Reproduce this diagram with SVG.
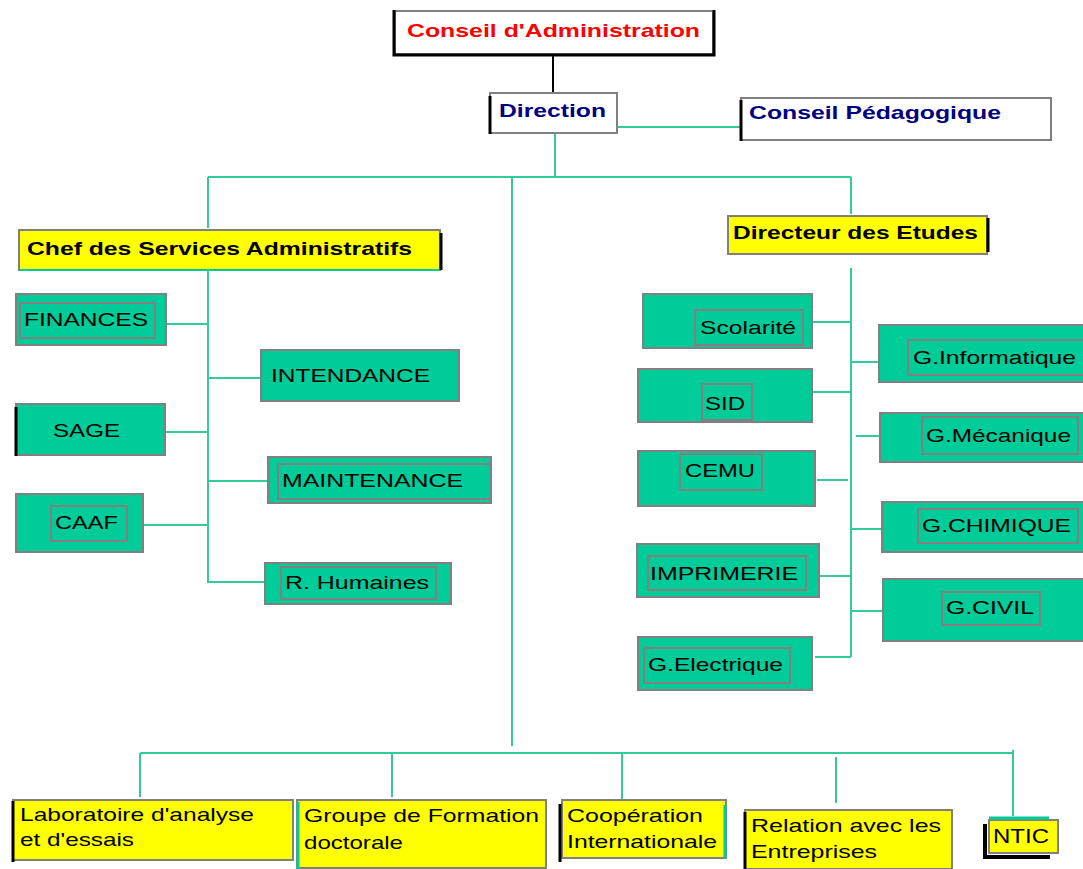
<svg xmlns="http://www.w3.org/2000/svg" width="1083" height="869" viewBox="0 0 1083 869">
<style>
.g{fill:#00CC99;stroke:#808080;stroke-width:2}
.in{fill:none;stroke:#808080;stroke-width:2}
.y{fill:#FFFF00;stroke:#808080;stroke-width:2}
.w{fill:#FFFFFF;stroke:#808080;stroke-width:2}
.bk{stroke:#000;stroke-width:3;fill:none}
.gr{stroke:#00CC99;stroke-width:3;fill:none}
.t{font-family:"Liberation Sans",Arial,sans-serif;font-size:19px;fill:#000}
.b{font-family:"Liberation Sans",Arial,sans-serif;font-size:19px;font-weight:bold}
.c line,.c polyline{stroke:#33CC99;stroke-width:2;fill:none}
</style>
<g class="c" id="connectors">
<line x1="553" y1="55" x2="553" y2="92" style="stroke:#000"/>
<line x1="617" y1="127" x2="740" y2="127"/>
<line x1="555" y1="133" x2="555" y2="177"/>
<line x1="208" y1="177" x2="851" y2="177"/>
<line x1="208" y1="177" x2="208" y2="228"/>
<line x1="851" y1="177" x2="851" y2="214"/>
<line x1="512" y1="177" x2="512" y2="746"/>
<line x1="208" y1="270" x2="208" y2="583"/>
<line x1="166" y1="324" x2="208" y2="324"/>
<line x1="208" y1="378" x2="260" y2="378"/>
<line x1="165" y1="432" x2="208" y2="432"/>
<line x1="208" y1="481" x2="267" y2="481"/>
<line x1="143" y1="525" x2="208" y2="525"/>
<line x1="208" y1="582" x2="264" y2="582"/>
<line x1="851" y1="268" x2="851" y2="657"/>
<line x1="812" y1="322" x2="851" y2="322"/>
<line x1="812" y1="392" x2="851" y2="392"/>
<line x1="817" y1="480" x2="848" y2="480"/>
<line x1="819" y1="576" x2="851" y2="576"/>
<line x1="815" y1="657" x2="851" y2="657"/>
<line x1="851" y1="362" x2="878" y2="362"/>
<line x1="856" y1="436" x2="879" y2="436"/>
<line x1="851" y1="529" x2="881" y2="529"/>
<line x1="851" y1="611" x2="882" y2="611"/>
<line x1="140" y1="753" x2="1012" y2="753"/>
<line x1="140" y1="753" x2="140" y2="797"/>
<line x1="392" y1="753" x2="392" y2="797"/>
<line x1="622" y1="753" x2="622" y2="799"/>
<line x1="836" y1="757" x2="836" y2="803"/>
<line x1="1013" y1="750" x2="1013" y2="816"/>
</g>
<g id="conseil-admin">
<rect x="395" y="11" width="318" height="43" class="w"/>
<polyline points="394,10 394,55 714,55 714,10" class="bk"/>
<text x="407" y="37" class="b" fill="#FF0000" textLength="293" lengthAdjust="spacingAndGlyphs">Conseil d'Administration</text>
</g>
<g id="direction">
<rect x="490" y="93" width="127" height="40" class="w"/>
<line x1="490" y1="96" x2="490" y2="134" class="bk"/>
<text x="499" y="117" class="b" fill="#000080" textLength="107" lengthAdjust="spacingAndGlyphs">Direction</text>
</g>
<g id="conseil-pedagogique">
<rect x="741" y="98" width="310" height="42" class="w"/>
<line x1="741" y1="100" x2="741" y2="141" class="bk"/>
<text x="749" y="119" class="b" fill="#000080" textLength="252" lengthAdjust="spacingAndGlyphs">Conseil Pédagogique</text>
</g>
<g id="chef-services">
<rect x="19" y="230" width="421" height="40" class="y"/>
<line x1="20" y1="270" x2="440" y2="270" class="gr" style="stroke-width:2"/>
<line x1="441" y1="233" x2="441" y2="270" class="bk"/>
<text x="27" y="255" class="b" textLength="385" lengthAdjust="spacingAndGlyphs">Chef des Services Administratifs</text>
</g>
<g id="directeur-etudes">
<rect x="728" y="216" width="259" height="38" class="y"/>
<line x1="988" y1="218" x2="988" y2="252" class="bk"/>
<text x="733" y="239" class="b" textLength="245" lengthAdjust="spacingAndGlyphs">Directeur des Etudes</text>
</g>
<g id="finances">
<rect x="16" y="294" width="150" height="51" class="g"/>
<rect x="20" y="303" width="135" height="35" class="in"/>
<text x="24" y="326" class="t" textLength="124" lengthAdjust="spacingAndGlyphs">FINANCES</text>
</g>
<g id="intendance">
<rect x="261" y="350" width="198" height="51" class="g"/>
<text x="271" y="382" class="t" textLength="159" lengthAdjust="spacingAndGlyphs">INTENDANCE</text>
</g>
<g id="sage">
<rect x="16" y="404" width="149" height="51" class="g"/>
<line x1="16" y1="407" x2="16" y2="456" class="bk"/>
<text x="53" y="437" class="t" textLength="67" lengthAdjust="spacingAndGlyphs">SAGE</text>
</g>
<g id="maintenance">
<rect x="268" y="457" width="223" height="46" class="g"/>
<rect x="278" y="464" width="213" height="35" class="in"/>
<text x="282" y="487" class="t" textLength="181" lengthAdjust="spacingAndGlyphs">MAINTENANCE</text>
</g>
<g id="caaf">
<rect x="16" y="494" width="127" height="58" class="g"/>
<rect x="51" y="506" width="76" height="35" class="in"/>
<text x="55" y="529" class="t" textLength="63" lengthAdjust="spacingAndGlyphs">CAAF</text>
</g>
<g id="rhumaines">
<rect x="265" y="563" width="186" height="41" class="g"/>
<rect x="281" y="567" width="155" height="32" class="in"/>
<text x="285" y="589" class="t" textLength="144" lengthAdjust="spacingAndGlyphs">R. Humaines</text>
</g>
<g id="scolarite">
<rect x="643" y="294" width="169" height="54" class="g"/>
<rect x="695" y="310" width="108" height="35" class="in"/>
<text x="700" y="334" class="t" textLength="96" lengthAdjust="spacingAndGlyphs">Scolarité</text>
</g>
<g id="sid">
<rect x="638" y="369" width="174" height="53" class="g"/>
<rect x="702" y="384" width="50" height="36" class="in"/>
<text x="705" y="410" class="t" textLength="40" lengthAdjust="spacingAndGlyphs">SID</text>
</g>
<g id="cemu">
<rect x="638" y="451" width="177" height="55" class="g"/>
<rect x="680" y="454" width="82" height="36" class="in"/>
<text x="685" y="477" class="t" textLength="70" lengthAdjust="spacingAndGlyphs">CEMU</text>
</g>
<g id="imprimerie">
<rect x="637" y="544" width="182" height="53" class="g"/>
<rect x="648" y="556" width="158" height="34" class="in"/>
<text x="650" y="580" class="t" textLength="148" lengthAdjust="spacingAndGlyphs">IMPRIMERIE</text>
</g>
<g id="gelectrique">
<rect x="638" y="637" width="174" height="53" class="g"/>
<rect x="644" y="648" width="146" height="35" class="in"/>
<text x="648" y="671" class="t" textLength="135" lengthAdjust="spacingAndGlyphs">G.Electrique</text>
</g>
<g id="ginformatique">
<rect x="879" y="325" width="205" height="57" class="g"/>
<rect x="908" y="340" width="176" height="35" class="in"/>
<text x="913" y="364" class="t" textLength="163" lengthAdjust="spacingAndGlyphs">G.Informatique</text>
</g>
<g id="gmecanique">
<rect x="880" y="413" width="204" height="49" class="g"/>
<rect x="922" y="417" width="156" height="37" class="in"/>
<text x="926" y="442" class="t" textLength="145" lengthAdjust="spacingAndGlyphs">G.Mécanique</text>
</g>
<g id="gchimique">
<rect x="882" y="502" width="202" height="50" class="g"/>
<rect x="918" y="509" width="160" height="34" class="in"/>
<text x="922" y="532" class="t" textLength="149" lengthAdjust="spacingAndGlyphs">G.CHIMIQUE</text>
</g>
<g id="gcivil">
<rect x="883" y="579" width="201" height="62" class="g"/>
<rect x="942" y="592" width="98" height="33" class="in"/>
<text x="946" y="614" class="t" textLength="88" lengthAdjust="spacingAndGlyphs">G.CIVIL</text>
</g>
<g id="laboratoire">
<rect x="13" y="800" width="280" height="60" class="y"/>
<line x1="13" y1="801" x2="13" y2="862" class="bk"/>
<text x="20" y="821" class="t" textLength="234" lengthAdjust="spacingAndGlyphs">Laboratoire d'analyse</text>
<text x="20" y="846" class="t" textLength="114" lengthAdjust="spacingAndGlyphs">et d'essais</text>
</g>
<g id="groupe-formation">
<rect x="297" y="800" width="249" height="68" class="y"/>
<line x1="298" y1="802" x2="298" y2="869" class="gr"/>
<text x="304" y="822" class="t" textLength="235" lengthAdjust="spacingAndGlyphs">Groupe de Formation</text>
<text x="304" y="849" class="t" textLength="99" lengthAdjust="spacingAndGlyphs">doctorale</text>
</g>
<g id="cooperation">
<rect x="562" y="800" width="164" height="58" class="y"/>
<line x1="560" y1="804" x2="560" y2="862" class="bk"/>
<line x1="725" y1="805" x2="725" y2="858" class="gr"/>
<text x="567" y="822" class="t" textLength="136" lengthAdjust="spacingAndGlyphs">Coopération</text>
<text x="567" y="848" class="t" textLength="150" lengthAdjust="spacingAndGlyphs">Internationale</text>
</g>
<g id="relation">
<rect x="745" y="810" width="207" height="59" class="y"/>
<line x1="745" y1="812" x2="745" y2="869" class="bk"/>
<text x="751" y="832" class="t" textLength="190" lengthAdjust="spacingAndGlyphs">Relation avec les</text>
<text x="751" y="858" class="t" textLength="126" lengthAdjust="spacingAndGlyphs">Entreprises</text>
</g>
<g id="ntic">
<polyline points="985,824 985,857 1050,857" class="bk" style="stroke-width:4"/>
<rect x="989" y="820" width="69" height="33" class="y"/>
<line x1="989" y1="818" x2="1049" y2="818" class="gr"/>
<text x="993" y="843" class="t" style="font-size:21px" textLength="56" lengthAdjust="spacingAndGlyphs">NTIC</text>
</g>
</svg>
